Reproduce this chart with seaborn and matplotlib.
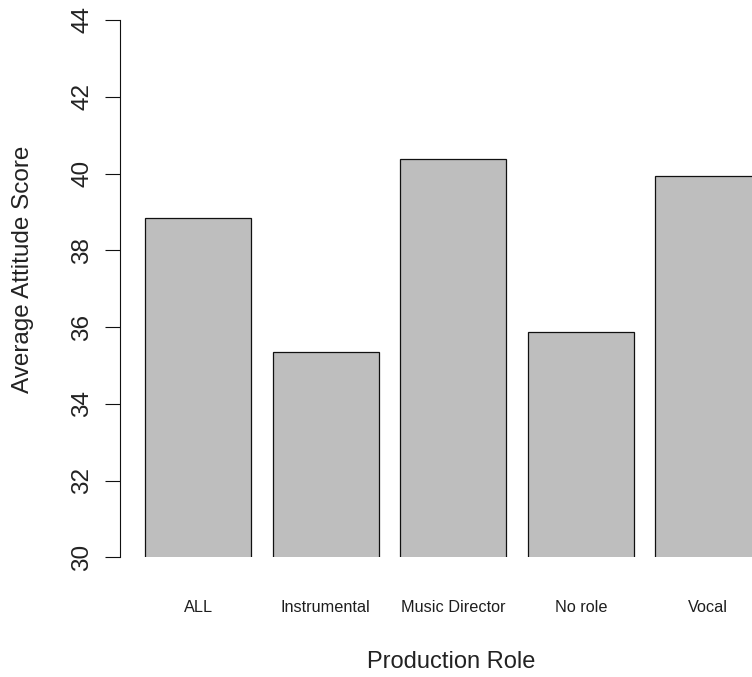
import matplotlib
matplotlib.use("Agg")
import matplotlib.pyplot as plt
import seaborn as sns
import pandas as pd

roles = ["ALL", "Instrumental", "Music Director", "No role", "Vocal"]
scores = [38.84, 35.35, 40.37, 35.86, 39.93]
yticks = [30, 32, 34, 36, 38, 40, 42, 44]

sns.set_theme(style="white")
plt.rcParams["font.family"] = ["Liberation Sans", "DejaVu Sans"]

W, H = 752, 677
fig = plt.figure(figsize=(W / 100, H / 100), dpi=100)
left_px, right_px = 120.3, 752
top_px, bot_px = 20, 557.3
ax = fig.add_axes([left_px / W, (H - bot_px) / H,
                   (right_px - left_px) / W, (bot_px - top_px) / H])

df = pd.DataFrame({"role": roles, "score": scores})
sns.barplot(data=df, x="role", y="score", color="#bebebe", saturation=1,
            edgecolor="#111111", linewidth=0.9, width=1 / 1.2, ax=ax)

ax.set_ylim(30, 44)
ax.set_xlim(-0.61, 4.3425)
ax.set_yticks(yticks)
ax.set_yticklabels([str(v) for v in yticks], rotation=90, va="center",
                   fontsize=17.5, color="#222222")
ax.tick_params(axis="y", length=10.5, width=0.8, color="#111111", pad=9,
               left=True)
ax.tick_params(axis="x", length=0, pad=30.5, labelsize=11.7, labelcolor="#1e1e1e")

for s in ["top", "right", "bottom"]:
    ax.spines[s].set_visible(False)
ax.spines["left"].set_color("#111111")
ax.spines["left"].set_linewidth(0.8)

ax.set_xlabel("Production Role", fontsize=17, color="#222222")
ax.set_ylabel("Average Attitude Score", fontsize=17.5, color="#222222")
ax.xaxis.set_label_coords(0.5235, -0.1943)
ax.xaxis.label.set_va("center")
ax.yaxis.set_label_coords(-0.154, 0.5366)
ax.yaxis.label.set_va("center")

fig.savefig("out.png", dpi=100, facecolor="white")
